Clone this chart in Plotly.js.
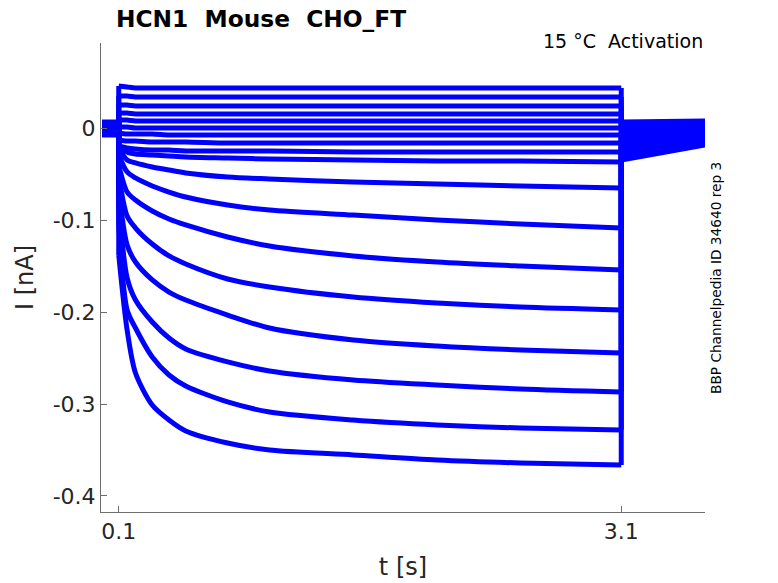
<!DOCTYPE html>
<html>
<head>
<meta charset="utf-8">
<script src="https://cdn.plot.ly/plotly-3.0.1.min.js"></script>
<style>
  html, body { margin: 0; padding: 0; background: #fff; }
  #chart { width: 778px; height: 583px; }
</style>
</head>
<body>
<div id="chart"></div>
<script>
// ---- data (values in nA, times in s) ----
const holdTimes = [0, 0.1];
const stepTimes = [0.1, 0.15, 0.2, 0.3, 0.4, 0.5, 0.75, 1.0, 1.5, 2.0, 2.5, 3.1];
const tailTimes = [3.1, 3.6];

// holding current before the step, one per sweep (sweep 1 = most negative)
const holdCurrent = [-0.0033, 0.0022, -0.0054, 0.0043, -0.0011, 0.0011, -0.0076, 0.0033, -0.0022,
                     0.0065, -0.0043, 0, 0.0022, -0.0065, 0.0011, -0.0011, 0.0043, -0.0022];

// current during the step, sampled at stepTimes
const sweep01 = [-0.1380, -0.2196, -0.2663, -0.3011, -0.3174, -0.3293, -0.3424, -0.3500, -0.3554, -0.3609, -0.3641, -0.3663];
const sweep02 = [-0.1054, -0.1978, -0.2174, -0.2489, -0.2685, -0.2804, -0.2978, -0.3087, -0.3174, -0.3228, -0.3261, -0.3283];
const sweep03 = [-0.0837, -0.1630, -0.1870, -0.2109, -0.2283, -0.2402, -0.2543, -0.2641, -0.2739, -0.2793, -0.2837, -0.2870];
const sweep04 = [-0.0674, -0.1272, -0.1457, -0.1652, -0.1783, -0.1870, -0.2033, -0.2174, -0.2304, -0.2370, -0.2413, -0.2446];
const sweep05 = [-0.0511, -0.0957, -0.1087, -0.1261, -0.1391, -0.1478, -0.1641, -0.1728, -0.1837, -0.1902, -0.1946, -0.1978];
const sweep06 = [-0.0402, -0.0696, -0.0783, -0.0902, -0.0989, -0.1054, -0.1185, -0.1283, -0.1391, -0.1457, -0.1500, -0.1543];
const sweep07 = [-0.0293, -0.0478, -0.0543, -0.0630, -0.0696, -0.0750, -0.0837, -0.0891, -0.0946, -0.1000, -0.1043, -0.1087];
const sweep08 = [-0.0217, -0.0348, -0.0380, -0.0424, -0.0457, -0.0489, -0.0533, -0.0554, -0.0587, -0.0609, -0.0630, -0.0652];
const sweep09 = [-0.0185, -0.0261, -0.0283, -0.0293, -0.0304, -0.0315, -0.0326, -0.0337, -0.0348, -0.0359, -0.0359, -0.0370];
const sweep10 = [-0.0196, -0.0217, -0.0228, -0.0239, -0.0239, -0.0250, -0.0250, -0.0250, -0.0261, -0.0261, -0.0261, -0.0261];
const sweep11 = [-0.0130, -0.0141, -0.0141, -0.0152, -0.0152, -0.0152, -0.0163, -0.0163, -0.0163, -0.0163, -0.0163, -0.0163];
const sweep12 = [-0.0054, -0.0065, -0.0065, -0.0065, -0.0076, -0.0076, -0.0076, -0.0076, -0.0076, -0.0076, -0.0076, -0.0076];
const sweep13 = [0.0011, 0.0011, 0.0000, 0.0000, 0.0000, 0.0000, 0.0000, 0.0000, 0.0000, 0.0000, 0.0000, 0.0000];
const sweep14 = [0.0087, 0.0087, 0.0076, 0.0076, 0.0076, 0.0076, 0.0076, 0.0076, 0.0076, 0.0076, 0.0076, 0.0076];
const sweep15 = [0.0163, 0.0163, 0.0152, 0.0152, 0.0152, 0.0152, 0.0152, 0.0152, 0.0152, 0.0152, 0.0152, 0.0152];
const sweep16 = [0.0250, 0.0250, 0.0239, 0.0239, 0.0239, 0.0239, 0.0239, 0.0239, 0.0239, 0.0239, 0.0239, 0.0239];
const sweep17 = [0.0348, 0.0348, 0.0337, 0.0337, 0.0337, 0.0337, 0.0337, 0.0337, 0.0337, 0.0337, 0.0337, 0.0337];
const sweep18 = [0.0457, 0.0446, 0.0435, 0.0435, 0.0435, 0.0435, 0.0435, 0.0435, 0.0435, 0.0435, 0.0435, 0.0435];

// tail current after the step (start at 3.1 s, end at 3.6 s)
const tailStart = [-0.0348, -0.0304, -0.0261, -0.0228, -0.0196, -0.0163, -0.0130, -0.0109, -0.0087,
                   -0.0065, -0.0043, -0.0022, 0, 0.0011, 0.0022, 0.0033, 0.0043, 0.0065];
const tailEnd   = [-0.0185, -0.0163, -0.0141, -0.0120, -0.0098, -0.0076, -0.0054, -0.0033, -0.0022,
                   -0.0011, 0, 0.0011, 0.0022, 0.0033, 0.0043, 0.0054, 0.0065, 0.0076];

const yTickVals = [-0.4, -0.3, -0.2, -0.1, 0];
const yTickText = ['-0.4', '-0.3', '-0.2', '-0.1', '0'];
const xTickVals = [0.1, 3.1];
const xTickText = ['0.1', '3.1'];

// ---- build traces ----
const sweeps = [sweep01, sweep02, sweep03, sweep04, sweep05, sweep06, sweep07, sweep08, sweep09,
                sweep10, sweep11, sweep12, sweep13, sweep14, sweep15, sweep16, sweep17, sweep18];

const blue = '#0000ff';
const lw = 5;
const traces = [];
sweeps.forEach((s, i) => {
  // holding segment + jump into the step
  traces.push({
    type: 'scatter', mode: 'lines',
    x: holdTimes.concat([stepTimes[0]]),
    y: [holdCurrent[i], holdCurrent[i], s[0]],
    line: { color: blue, width: lw },
    hoverinfo: 'skip', showlegend: false
  });
  // step segment (smooth)
  traces.push({
    type: 'scatter', mode: 'lines',
    x: stepTimes,
    y: s,
    line: { color: blue, width: lw, shape: 'spline', smoothing: 0.8 },
    hoverinfo: 'skip', showlegend: false
  });
  // jump back + tail
  traces.push({
    type: 'scatter', mode: 'lines',
    x: [stepTimes[stepTimes.length - 1]].concat(tailTimes),
    y: [s[s.length - 1], tailStart[i], tailEnd[i]],
    line: { color: blue, width: lw },
    hoverinfo: 'skip', showlegend: false
  });
});

const font = 'DejaVu Sans, Liberation Sans, sans-serif';
const nb = '\u00a0';

const layout = {
  width: 778,
  height: 583,
  margin: { l: 101, r: 73, t: 43, b: 71, pad: 0 },
  paper_bgcolor: '#ffffff',
  plot_bgcolor: '#ffffff',
  showlegend: false,
  font: { family: font, color: '#262626' },
  xaxis: {
    range: [-0.006, 3.6],
    tickvals: xTickVals,
    ticktext: xTickText,
    ticks: 'inside',
    ticklen: 6,
    tickwidth: 1,
    tickcolor: '#6e6e6e',
    showline: true,
    linecolor: '#6e6e6e',
    linewidth: 1,
    mirror: false,
    showgrid: false,
    zeroline: false,
    tickfont: { family: font, size: 22, color: '#262626' },
    title: { text: 't [s]', font: { family: font, size: 24, color: '#262626' }, standoff: 14 }
  },
  yaxis: {
    range: [-0.4174, 0.0924],
    tickvals: yTickVals,
    ticktext: yTickText,
    ticks: 'inside',
    ticklen: 6,
    tickwidth: 1,
    tickcolor: '#6e6e6e',
    showline: true,
    linecolor: '#6e6e6e',
    linewidth: 1,
    mirror: false,
    showgrid: false,
    zeroline: false,
    tickfont: { family: font, size: 22, color: '#262626' },
    title: { text: 'I [nA]', font: { family: font, size: 24, color: '#262626' }, standoff: 12 }
  },
  annotations: [
    {
      xref: 'paper', yref: 'paper',
      x: (114 - 101) / 604, y: (512 - 18) / 469,
      xanchor: 'left', yanchor: 'middle',
      text: '<b>HCN1' + nb + nb + 'Mouse' + nb + nb + 'CHO_FT</b>',
      showarrow: false,
      font: { family: font, size: 23.3, color: '#000000' }
    },
    {
      xref: 'paper', yref: 'paper',
      x: (705 - 101) / 604, y: (512 - 41) / 469,
      xanchor: 'right', yanchor: 'middle',
      text: '15 °C' + nb + nb + 'Activation',
      showarrow: false,
      font: { family: font, size: 19, color: '#000000' }
    },
    {
      xref: 'paper', yref: 'paper',
      x: (716 - 101) / 604, y: (512 - 278) / 469,
      xanchor: 'center', yanchor: 'middle',
      text: 'BBP Channelpedia ID 34640 rep 3',
      textangle: -90,
      showarrow: false,
      font: { family: font, size: 13.7, color: '#000000' }
    }
  ]
};

Plotly.newPlot('chart', traces, layout, { staticPlot: true, displayModeBar: false });
</script>
</body>
</html>
